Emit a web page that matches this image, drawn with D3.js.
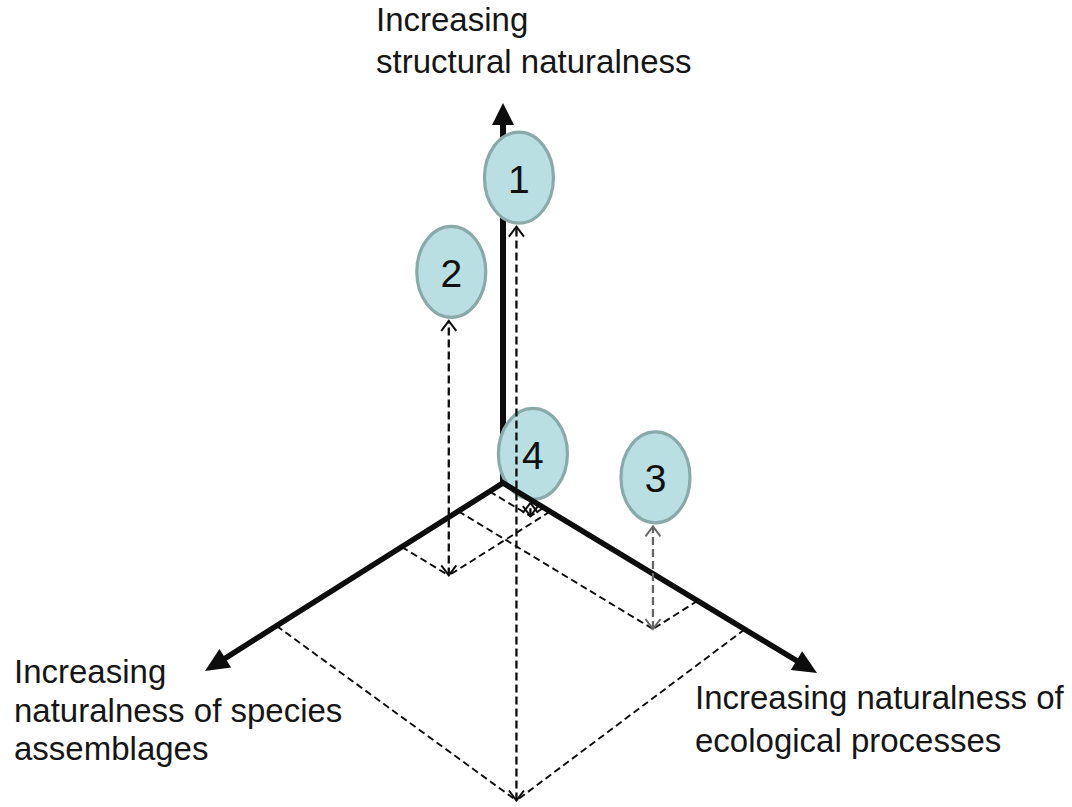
<!DOCTYPE html>
<html><head><meta charset="utf-8">
<script src="https://cdn.jsdelivr.net/npm/d3@7"></script>
<style>html,body{margin:0;padding:0;background:#fff;} svg{display:block;}</style>
</head><body>
<svg id="chart" width="1072" height="807"></svg>
<script>
// ---------- data ----------
const axisKeys = ["species", "processes", "structure"];
const speciesLabel = ["Increasing", "naturalness of species", "assemblages"];
const processLabel = ["Increasing naturalness of", "ecological processes"];
const structureLabel = ["Increasing", "structural naturalness"];
const axisMax = 10;

const pointIds = ["1", "2", "3", "4"];
const speciesValues = [8.4, 3.4, 1.5, 0.45];
const processValues = [8.4, 1.5, 6.2, 1.3];
const structureValues = [15.1, 6.7, 2.7, 0.35];
// values where the dashed guide lines leave the two ground axes
const speciesGuide = [7.6, 3.4, 1.5, 0.45];
const processGuide = [7.7, 1.5, 6.2, 1.3];

// ---------- layout / projection ----------
const svg = d3.select("#chart");
const origin = {x: 503, y: 483};
const sX = d3.scaleLinear().domain([0, axisMax]).range([0, -298]);
const sY = d3.scaleLinear().domain([0, axisMax]).range([0, 188]);
const pX = d3.scaleLinear().domain([0, axisMax]).range([0, 314]);
const pY = d3.scaleLinear().domain([0, axisMax]).range([0, 190]);
const hY = d3.scaleLinear().domain([0, axisMax]).range([0, -380]);
const project = (s, p, h) => [origin.x + sX(s) + pX(p), origin.y + sY(s) + pY(p) + hY(h)];

const INK = "#0d0d0d";
const FONT = "'Liberation Sans', Arial, sans-serif";

function backOff(from, to, d) {
  const dx = to[0] - from[0], dy = to[1] - from[1];
  const L = Math.hypot(dx, dy);
  return [to[0] - dx / L * d, to[1] - dy / L * d];
}
function headPts(from, tip, len, hw) {
  const dx = tip[0] - from[0], dy = tip[1] - from[1];
  const L = Math.hypot(dx, dy), ux = dx / L, uy = dy / L;
  const bx = tip[0] - ux * len, by = tip[1] - uy * len;
  return [[bx - uy * hw, by + ux * hw], tip, [bx + uy * hw, by - ux * hw]];
}

const O = project(0, 0, 0);
const tipS = project(axisMax, 0, 0);
const tipP = project(0, axisMax, 0);
const tipH = project(0, 0, axisMax);

// vertical axis (under the ellipses)
const gAxis = svg.append("g");
gAxis.append("line")
  .attr("x1", O[0]).attr("y1", O[1])
  .attr("x2", backOff(O, tipH, 18)[0]).attr("y2", backOff(O, tipH, 18)[1])
  .attr("stroke", INK).attr("stroke-width", 6);
gAxis.append("polygon").attr("points", headPts(O, tipH, 22, 11).join(" ")).attr("fill", INK);

// points data
const pts = pointIds.map((id, i) => {
  const g = project(speciesValues[i], processValues[i], 0);
  const top = project(speciesValues[i], processValues[i], structureValues[i]);
  return {
    id, g, top,
    sA: project(speciesGuide[i], 0, 0),
    pA: project(0, processGuide[i], 0)
  };
});

// ellipses
const rx = 34.5, ry = 45.5;
const gEll = svg.append("g");
pts.forEach(d => {
  const cx = d.top[0] + 2.5, cy = d.top[1] - 2 - ry - 1.5;
  gEll.append("ellipse").attr("cx", cx).attr("cy", cy).attr("rx", rx).attr("ry", ry)
    .attr("fill", "#B9DFE2").attr("stroke", "#8AAAAA").attr("stroke-width", 3.2);
  gEll.append("text").attr("x", cx).attr("y", cy + 15)
    .attr("text-anchor", "middle").attr("font-family", FONT).attr("font-size", 39)
    .attr("fill", "#111").text(d.id);
});

// ground axes
const aS = backOff(O, tipS, 20), aP = backOff(O, tipP, 20);
const gGround = svg.append("g");
gGround.append("path")
  .attr("d", d3.line()([aS, O, aP]))
  .attr("fill", "none").attr("stroke", INK).attr("stroke-width", 5.5)
  .attr("stroke-linejoin", "miter");
gGround.append("polygon").attr("points", headPts(O, tipS, 24, 11).join(" ")).attr("fill", INK);
gGround.append("polygon").attr("points", headPts(O, tipP, 24, 11).join(" ")).attr("fill", INK);

// dashed guides
const gDash = svg.append("g").attr("fill", "none");
function chevron(from, tip, color, w) {
  const h = headPts(from, tip, 10, 7.5);
  gDash.append("path").attr("d", d3.line()(h)).attr("stroke", color).attr("stroke-width", w);
}
pts.forEach(d => {
  [d.sA, d.pA].forEach(a => {
    gDash.append("line").attr("x1", a[0]).attr("y1", a[1]).attr("x2", d.g[0]).attr("y2", d.g[1])
      .attr("stroke", INK).attr("stroke-width", 1.9).attr("stroke-dasharray", "7,4");
  });
});
pts.forEach(d => {
  const col = d.id === "3" ? "#666" : INK;
  gDash.append("line").attr("x1", d.g[0]).attr("y1", d.g[1]).attr("x2", d.top[0]).attr("y2", d.top[1])
    .attr("stroke", col).attr("stroke-width", 2.3).attr("stroke-dasharray", "8,4");
  chevron(d.top, d.g, col, 2);
  chevron(d.g, d.top, col, 2);
});

// axis labels
const labels = [
  {lines: structureLabel, x: 376, y: 31, dy: 42},
  {lines: speciesLabel, x: 14, y: 683, dy: 38.5},
  {lines: processLabel, x: 695, y: 709, dy: 43}
];
labels.forEach(l => {
  const t = svg.append("text").attr("font-family", FONT).attr("font-size", 33).attr("fill", "#161616");
  l.lines.forEach((s, i) => t.append("tspan").attr("x", l.x).attr("y", l.y + i * l.dy).text(s));
});
</script>
</body></html>
